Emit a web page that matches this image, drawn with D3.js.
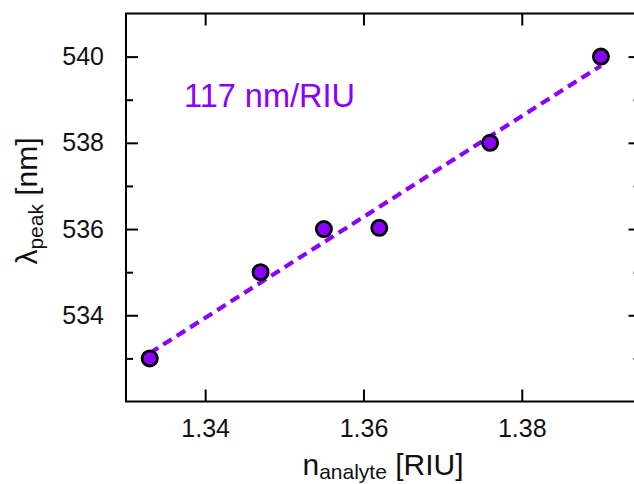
<!DOCTYPE html>
<html>
<head>
<meta charset="utf-8">
<script src="https://cdn.jsdelivr.net/npm/d3@7"></script>
<style>
  html, body { margin: 0; padding: 0; background: #fff; }
  svg { display: block; }
  text { font-family: "Liberation Sans", Arial, sans-serif; }
</style>
</head>
<body>
<svg id="chart" width="634" height="484"></svg>
<script>
// Refractive index of the analyte and measured resonance peak wavelength
const refractiveIndex = [1.333, 1.347, 1.355, 1.362, 1.376, 1.390];
const peakWavelength = [533.0, 535.0, 536.0, 536.03, 538.0, 540.0];

// Sensitivity of the linear fit (nm per refractive index unit)
const sensitivity = 117;
const sensitivityLabel = "117 nm/RIU";

const xTicks = [1.34, 1.36, 1.38];
const yMajorTicks = [534, 536, 538, 540];
const yMinorTicks = [533, 535, 537, 539];

const purple = "#8a00ff";

const svg = d3.select("#chart");

const x = d3.scaleLinear().domain([1.33, 1.395]).range([126, 640.5]);
const y = d3.scaleLinear().domain([532, 541]).range([401.5, 13.5]);

const [x0, x1] = x.range();
const [yB, yT] = y.range();

// Frame axes with inward ticks
const axisG = svg.append("g").attr("class", "axes");

const styleAxis = g => {
  g.selectAll(".domain").remove();
  g.selectAll("line").attr("stroke", "#000").attr("stroke-width", 2);
  g.selectAll("text")
    .attr("fill", "#111")
    .style("font-size", "25px");
};

// Bottom axis
axisG.append("g")
  .attr("transform", `translate(0,${yB})`)
  .call(d3.axisBottom(x).tickValues(xTicks).tickFormat(d3.format(".2f"))
        .tickSizeInner(-12).tickSizeOuter(0).tickPadding(18))
  .call(styleAxis);

// Top axis (ticks only)
axisG.append("g")
  .attr("transform", `translate(0,${yT})`)
  .call(d3.axisTop(x).tickValues(xTicks).tickFormat("")
        .tickSizeInner(-12).tickSizeOuter(0))
  .call(styleAxis);

// Left axis with major and minor ticks
axisG.append("g")
  .attr("transform", `translate(${x0},0)`)
  .call(d3.axisLeft(y).tickValues(yMajorTicks).tickFormat(d3.format("d"))
        .tickSizeInner(-12).tickSizeOuter(0).tickPadding(22))
  .call(styleAxis);
axisG.append("g")
  .attr("transform", `translate(${x0},0)`)
  .call(d3.axisLeft(y).tickValues(yMinorTicks).tickFormat("")
        .tickSizeInner(-7).tickSizeOuter(0))
  .call(styleAxis);

// Right axis ticks
axisG.append("g")
  .attr("transform", `translate(${x1},0)`)
  .call(d3.axisRight(y).tickValues(yMajorTicks).tickFormat("")
        .tickSizeInner(-12).tickSizeOuter(0))
  .call(styleAxis);
axisG.append("g")
  .attr("transform", `translate(${x1},0)`)
  .call(d3.axisRight(y).tickValues(yMinorTicks).tickFormat("")
        .tickSizeInner(-7).tickSizeOuter(0))
  .call(styleAxis);

// Frame
axisG.append("rect")
  .attr("x", x0).attr("y", yT)
  .attr("width", x1 - x0).attr("height", yB - yT)
  .attr("fill", "none").attr("stroke", "#000").attr("stroke-width", 2);

// Linear fit through the mean point with the stated sensitivity
const meanX = d3.mean(refractiveIndex);
const meanY = d3.mean(peakWavelength);
const fit = n => meanY + sensitivity * (n - meanX);
const fitExtent = d3.extent(refractiveIndex);

svg.append("line")
  .attr("x1", x(fitExtent[0])).attr("y1", y(fit(fitExtent[0])))
  .attr("x2", x(fitExtent[1])).attr("y2", y(fit(fitExtent[1])))
  .attr("stroke", purple)
  .attr("stroke-width", 4.2)
  .attr("stroke-dasharray", "10,6");

// Measured points
svg.append("g").selectAll("circle")
  .data(refractiveIndex.map((n, i) => ({ n, w: peakWavelength[i] })))
  .join("circle")
  .attr("cx", d => x(d.n))
  .attr("cy", d => y(d.w))
  .attr("r", 7.6)
  .attr("fill", purple)
  .attr("stroke", "#000")
  .attr("stroke-width", 2.8);

// Sensitivity annotation
svg.append("text")
  .attr("x", 184).attr("y", 107)
  .attr("fill", purple)
  .style("font-size", "32.5px")
  .text(sensitivityLabel);

// X axis title
const xTitle = svg.append("text")
  .attr("x", 383).attr("y", 475)
  .attr("text-anchor", "middle")
  .attr("fill", "#111")
  .style("font-size", "30px");
xTitle.append("tspan").text("n");
xTitle.append("tspan").attr("dy", 4).style("font-size", "21px").text("analyte");
xTitle.append("tspan").attr("dy", -4).text(" [RIU]");

// Y axis title
const yTitle = svg.append("text")
  .attr("transform", "translate(37,201) rotate(-90)")
  .attr("text-anchor", "middle")
  .attr("fill", "#111")
  .style("font-size", "30px");
yTitle.append("tspan").text("λ");
yTitle.append("tspan").attr("dy", 6).style("font-size", "21px").text("peak");
yTitle.append("tspan").attr("dy", -6).text(" [nm]");
</script>
</body>
</html>
